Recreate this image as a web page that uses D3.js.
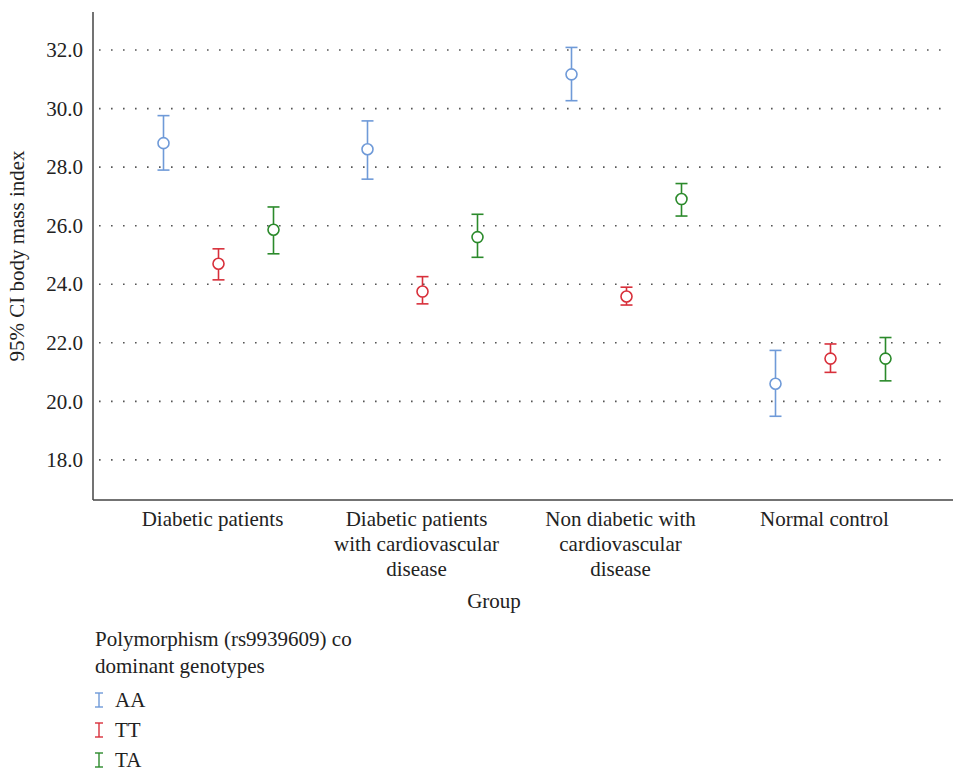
<!DOCTYPE html>
<html>
<head>
<meta charset="utf-8">
<script src="https://cdn.jsdelivr.net/npm/d3@7"></script>
<style>
  body { margin: 0; background: #fff; }
  svg text { font-family: "Liberation Serif", "Times New Roman", serif; fill: #222; }
</style>
</head>
<body>
<div class="chart"></div>
<script>
var groups = [
  ["Diabetic patients"],
  ["Diabetic patients", "with cardiovascular", "disease"],
  ["Non diabetic with", "cardiovascular", "disease"],
  ["Normal control"]
];
var genotypes = ["AA", "TT", "TA"];
var colors = ["#6f9ad8", "#d8303b", "#2b8a2b"];
var yTicks = [18, 20, 22, 24, 26, 28, 30, 32];

// mean, lower, upper for each group (one array per genotype)
var meanAA = [28.82, 28.61, 31.17, 20.60];
var lowAA = [27.90, 27.59, 30.27, 19.49];
var highAA = [29.76, 29.58, 32.09, 21.74];
var meanTT = [24.70, 23.75, 23.58, 21.46];
var lowTT = [24.15, 23.33, 23.29, 20.99];
var highTT = [25.21, 24.26, 23.90, 21.96];
var meanTA = [25.86, 25.61, 26.91, 21.46];
var lowTA = [25.04, 24.92, 26.33, 20.70];
var highTA = [26.64, 26.39, 27.44, 22.18];

var svgWidth = 953;
var svgHeight = 771;
var fontFam = "Liberation Serif, Times New Roman, serif";
var fontSize = "21px";

var svg = d3.select(".chart")
  .append("svg")
  .attr("width", svgWidth)
  .attr("height", svgHeight)
  .attr("font-family", fontFam);

var plotLeft = 93, plotRight = 953, plotTop = 12, plotBottom = 500;

var y = d3.scaleLinear()
  .domain([16.63, 33.3])
  .range([plotBottom, plotTop]);

var x = d3.scaleBand()
  .domain(d3.range(groups.length))
  .range([116.5, 932.5]);

var offset = d3.scalePoint()
  .domain(genotypes)
  .range([-55, 55]);

// gridlines
svg.append("g")
  .selectAll("line")
  .data(yTicks)
  .enter()
  .append("line")
  .attr("x1", plotLeft + 6)
  .attr("x2", 948)
  .attr("y1", d => y(d))
  .attr("y2", d => y(d))
  .attr("stroke", "#555")
  .attr("stroke-width", 1.6)
  .attr("stroke-dasharray", "1.6,10.4");

// y axis
var leftAxis = d3.axisLeft(y)
  .tickValues(yTicks)
  .tickFormat(d3.format(".1f"))
  .tickSize(0)
  .tickPadding(10);

var yAxis = svg.append("g")
  .attr("transform", `translate(${plotLeft},0)`)
  .call(leftAxis)
  .attr("font-family", fontFam)
  .attr("font-size", fontSize);
yAxis.select(".domain").remove();
yAxis.selectAll("text")
  .attr("fill", "#222");

svg.append("line")
  .attr("x1", plotLeft).attr("x2", plotLeft)
  .attr("y1", plotTop).attr("y2", plotBottom)
  .attr("stroke", "#444").attr("stroke-width", 1.5);
svg.append("line")
  .attr("x1", plotLeft).attr("x2", plotRight)
  .attr("y1", plotBottom).attr("y2", plotBottom)
  .attr("stroke", "#444").attr("stroke-width", 1.5);

// category labels
var catLabels = svg.append("g");
groups.forEach(function(lines, i) {
  var cxLabel = x(i) + x.bandwidth() / 2 - 6;
  var t = catLabels.append("text")
    .attr("text-anchor", "middle")
    .attr("font-size", fontSize)
    .attr("x", cxLabel)
    .attr("y", 526);
  lines.forEach(function(line, j) {
    t.append("tspan")
      .attr("x", cxLabel)
      .attr("dy", j === 0 ? 0 : 25)
      .text(line);
  });
});

svg.append("text")
  .attr("x", 494)
  .attr("y", 608)
  .attr("text-anchor", "middle")
  .attr("font-size", fontSize)
  .text("Group");

svg.append("text")
  .attr("transform", "rotate(-90)")
  .attr("x", -256)
  .attr("y", 24)
  .attr("text-anchor", "middle")
  .attr("font-size", fontSize)
  .text("95% CI body mass index");

// error bars
var series = [
  { key: "AA", mean: meanAA, low: lowAA, high: highAA },
  { key: "TT", mean: meanTT, low: lowTT, high: highTT },
  { key: "TA", mean: meanTA, low: lowTA, high: highTA }
];

series.forEach(function(s, si) {
  var g = svg.append("g")
    .attr("stroke", colors[si])
    .attr("stroke-width", 1.6)
    .attr("fill", "none");
  var pts = s.mean.map((m, i) => ({ i: i, m: m, lo: s.low[i], hi: s.high[i] }));
  var cx = d => x(d.i) + x.bandwidth() / 2 + offset(s.key);

  var bars = g.selectAll("g.bar")
    .data(pts)
    .enter()
    .append("g")
    .attr("class", "bar");

  bars.append("line")
    .attr("x1", cx).attr("x2", cx)
    .attr("y1", d => y(d.hi)).attr("y2", d => y(d.m) - 5.5);
  bars.append("line")
    .attr("x1", cx).attr("x2", cx)
    .attr("y1", d => y(d.m) + 5.5).attr("y2", d => y(d.lo));
  bars.append("line")
    .attr("x1", d => cx(d) - 6).attr("x2", d => cx(d) + 6)
    .attr("y1", d => y(d.hi)).attr("y2", d => y(d.hi));
  bars.append("line")
    .attr("x1", d => cx(d) - 6).attr("x2", d => cx(d) + 6)
    .attr("y1", d => y(d.lo)).attr("y2", d => y(d.lo));
  bars.append("circle")
    .attr("cx", cx)
    .attr("cy", d => y(d.m))
    .attr("r", 5.5);
});

// legend
var legend = svg.append("g");
legend.append("text")
  .attr("x", 95).attr("y", 646)
  .attr("font-size", fontSize)
  .text("Polymorphism (rs9939609) co");
legend.append("text")
  .attr("x", 95).attr("y", 673)
  .attr("font-size", fontSize)
  .text("dominant genotypes");

genotypes.forEach(function(gk, i) {
  var ly = 700 + i * 30;
  var item = legend.append("g")
    .attr("stroke", colors[i])
    .attr("stroke-width", 1.4);
  item.append("line").attr("x1", 99).attr("x2", 99).attr("y1", ly - 7).attr("y2", ly + 7);
  item.append("line").attr("x1", 95).attr("x2", 103).attr("y1", ly - 7).attr("y2", ly - 7);
  item.append("line").attr("x1", 95).attr("x2", 103).attr("y1", ly + 7).attr("y2", ly + 7);
  legend.append("text")
    .attr("x", 115).attr("y", ly + 7)
    .attr("font-size", fontSize)
    .text(gk);
});
</script>
</body>
</html>
